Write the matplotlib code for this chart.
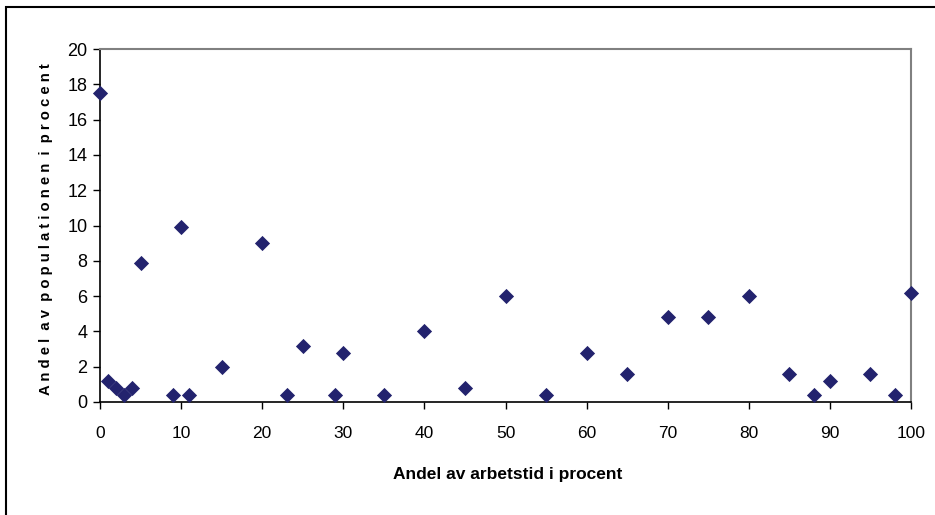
import matplotlib
matplotlib.use("Agg")
import matplotlib.pyplot as plt
from matplotlib.patches import Rectangle
from matplotlib import font_manager

x_values = [0, 1, 2, 3, 4, 5, 9, 10, 11, 15, 20, 23, 25, 29, 30, 35, 40, 45, 50,
            55, 60, 65, 70, 75, 80, 85, 88, 90, 95, 98, 100]
y_values = [17.5, 1.2, 0.8, 0.4, 0.8, 7.9, 0.4, 9.9, 0.4, 2.0, 9.0, 0.4, 3.2, 0.4, 2.8,
            0.4, 4.0, 0.8, 6.0, 0.4, 2.8, 1.6, 4.8, 4.8, 6.0, 1.6, 0.4, 1.2, 1.6, 0.4, 6.2]
x_ticks = [0, 10, 20, 30, 40, 50, 60, 70, 80, 90, 100]
y_ticks = [0, 2, 4, 6, 8, 10, 12, 14, 16, 18, 20]
x_label = "Andel av arbetstid i procent"
y_label = "A n d e l  a v  p o p u l a t i o n e n  i  p r o c e n t"

names = {f.name for f in font_manager.fontManager.ttflist}
narrow = "Liberation Sans Narrow" if "Liberation Sans Narrow" in names else "Liberation Sans"
normal = "Liberation Sans"

W, H = 935, 515
fig = plt.figure(figsize=(W / 100, H / 100), dpi=100)
fig.patch.set_facecolor("white")

# outer chart frame (extends beyond the image on the right/bottom)
fig.patches.append(Rectangle((6 / W, -0.2), 1.2, 1 - 7 / H + 0.2, transform=fig.transFigure,
                             fill=False, edgecolor="black", linewidth=1.5))

ax = fig.add_axes([100 / W, (H - 402) / H, (911 - 100) / W, (402 - 49) / H])
ax.scatter(x_values, y_values, marker="D", s=60, color="#23236e", zorder=3, clip_on=False,
           linewidths=0)
ax.set_xlim(0, 100)
ax.set_ylim(0, 20)
ax.set_xticks(x_ticks)
ax.set_yticks(y_ticks)
ax.set_xticklabels([str(t) for t in x_ticks], family=narrow, fontsize=12.5)
ax.set_yticklabels([str(t) for t in y_ticks], family=normal, fontsize=13)
ax.tick_params(axis="both", direction="out", length=5, width=1, color="black")
ax.tick_params(axis="x", pad=12)
ax.tick_params(axis="y", pad=4)
for s in ["top", "right"]:
    ax.spines[s].set_color("#808080")
    ax.spines[s].set_linewidth(1.5)
for s in ["left", "bottom"]:
    ax.spines[s].set_color("black")
    ax.spines[s].set_linewidth(1.2)

fig.text(508 / W, 1 - 474 / H, x_label, ha="center", va="center",
         family=narrow, fontweight="bold", fontsize=12.5)
fig.text(46 / W, 1 - 229 / H, y_label, ha="center", va="center", rotation=90,
         family=normal, fontweight="bold", fontsize=10.7)

fig.savefig("out.png", dpi=100)
